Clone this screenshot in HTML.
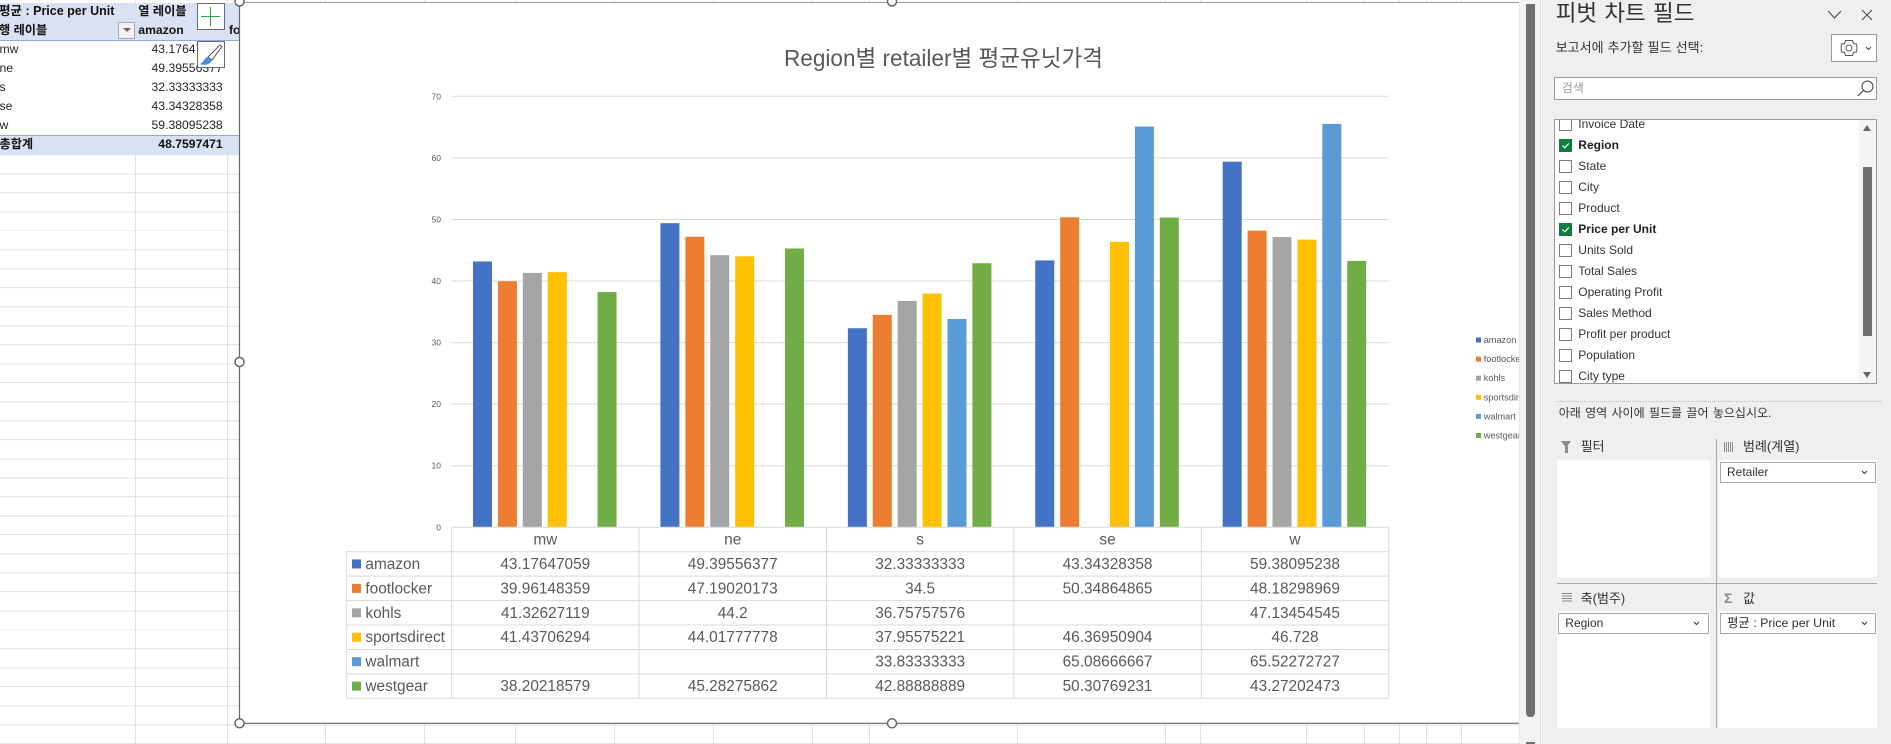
<!DOCTYPE html>
<html lang="ko">
<head>
<meta charset="utf-8">
<title>Region별 retailer별 평균유닛가격</title>
<style>
html,body{margin:0;padding:0;background:#fff}
body{position:relative;width:1891px;height:744px;overflow:hidden;font-family:"Liberation Sans","Noto Sans CJK KR",sans-serif;color:#262626}
div,span{position:absolute;box-sizing:border-box}
#grid-h{left:0;top:0;width:1519px;height:744px;background-image:repeating-linear-gradient(to bottom,transparent 0,transparent 18px,#e1e1e1 18px,#e1e1e1 19px);background-position:0 3.3px}
.v{top:0;width:1px;height:744px;background:#e1e1e1}
.c{height:19px;line-height:19px;font-size:12.2px;white-space:nowrap}
.b{font-weight:bold;color:#111}
.r{text-align:right;left:130px;width:92.7px}
.chk{left:1559px;width:13px;height:13px;border:1px solid #7a7a7a;background:#fff}
.chk.on{background:#107c41;border-color:#107c41}
.fld{left:1578.3px;height:20px;line-height:20px;font-size:12px;white-space:nowrap;color:#333}
.lbl{font-size:13px;height:18px;line-height:18px;white-space:nowrap;color:#333}
.zone{background:#fff}
.pill{height:21px;background:#fff;border:1px solid #a8a8a8;font-size:12px;line-height:19px;padding-left:6px;color:#333;white-space:nowrap}
</style>
</head>
<body>

<div id="grid-h"></div>
<div class="v" style="left:135px"></div>
<div class="v" style="left:226.5px"></div>
<div class="v" style="left:325px"></div>
<div class="v" style="left:424px"></div>
<div class="v" style="left:515px"></div>
<div class="v" style="left:614px"></div>
<div class="v" style="left:713px"></div>
<div class="v" style="left:812px"></div>
<div class="v" style="left:869px"></div>
<div class="v" style="left:1017px"></div>
<div class="v" style="left:1165px"></div>
<div class="v" style="left:1200px"></div>
<div class="v" style="left:1306px"></div>
<div class="v" style="left:1364px"></div>
<div class="v" style="left:1399px"></div>
<div class="v" style="left:1426px"></div>
<div class="v" style="left:1461px"></div>

<!-- pivot table -->
<div style="left:0;top:3px;width:239px;height:37.5px;background:#d9e1f2;border-bottom:1px solid #8ea9db"></div>
<div style="left:0;top:40.5px;width:239px;height:95px;background:#fff;border-bottom:1px solid #8ea9db"></div>
<div style="left:0;top:135.5px;width:239px;height:19px;background:#d9e1f2"></div>

<div class="c b" style="left:-1px;top:2px;font-size:12.5px">평균 : Price per Unit</div>
<div class="c b" style="left:138.3px;top:2px">열 레이블</div>
<div class="c b" style="left:-1px;top:21px">행 레이블</div>
<div style="left:118.3px;top:22.3px;width:16.5px;height:16.5px;background:#f2f2f2;border:1px solid #aaa">
  <span style="left:3.5px;top:5px;width:0;height:0;border-left:4px solid transparent;border-right:4px solid transparent;border-top:4px solid #666"></span>
</div>
<div class="c b" style="left:138.3px;top:21px">amazon</div>
<div class="c b" style="left:229px;top:21px;width:10px;overflow:hidden">footlocker</div>

<div class="c" style="left:-0.5px;top:40px">mw</div>
<div class="c" style="left:-0.5px;top:59px">ne</div>
<div class="c" style="left:-0.5px;top:78px">s</div>
<div class="c" style="left:-0.5px;top:97px">se</div>
<div class="c" style="left:-0.5px;top:116px">w</div>
<div class="c b" style="left:-0.5px;top:135px">총합계</div>
<div class="c r" style="top:40px">43.17647059</div>
<div class="c r" style="top:59px">49.39556377</div>
<div class="c r" style="top:78px">32.33333333</div>
<div class="c r" style="top:97px">43.34328358</div>
<div class="c r" style="top:116px">59.38095238</div>
<div class="c r b" style="top:135px">48.7597471</div>

<div style="left:197.3px;top:3.3px;width:27.4px;height:27.2px;background:#fff;border:1px solid #6a6a6a">
  <span style="left:12.2px;top:3px;width:1px;height:19px;background:#22a34a"></span>
  <span style="left:3px;top:12.2px;width:19px;height:1px;background:#22a34a"></span>
</div>
<div style="left:197.3px;top:41.3px;width:27.4px;height:27.2px;background:#fff;border:1px solid #6a6a6a">
  <svg width="26" height="26" style="position:absolute;left:0;top:0">
    <path d="M10 15 L22 3 L24 4.500 L14 18 Z" fill="#fff" stroke="#555" stroke-width="1"/>
    <path d="M10 15 C6 16 6 20 2 22 C7 24 13 22 14 18 Z" fill="#4a90d9"/>
  </svg>
</div>

<!-- chart -->
<svg id="chart" width="1891" height="744" style="position:absolute;left:0;top:0" xmlns="http://www.w3.org/2000/svg">
  <defs><clipPath id="legend-clip"><rect x="1470" y="320" width="49" height="130"/></clipPath></defs>
  <rect x="239.500" y="2.500" width="1280" height="720.800" fill="#fff"/>
  <line x1="239.500" y1="2.500" x2="1519" y2="2.500" stroke="#9a9a9a" stroke-width="1"/>
  <line x1="239.500" y1="2.500" x2="239.500" y2="723.300" stroke="#666" stroke-width="1.200"/>
  <line x1="239.500" y1="723.300" x2="1519" y2="723.300" stroke="#666" stroke-width="1.200"/>
  <line x1="1519.300" y1="2.500" x2="1519.300" y2="744" stroke="#e4e4e4" stroke-width="1"/>
  <text x="943.500" y="66" text-anchor="middle" font-size="23" fill="#595959" textLength="319" lengthAdjust="spacingAndGlyphs" font-family="Liberation Sans, Noto Sans CJK KR, sans-serif">Region별 retailer별 평균유닛가격</text>
  <g id="gridlines"></g>
  <g id="bars"></g>
  <g id="data-table"></g>
  <g id="legend" clip-path="url(#legend-clip)"></g>
  <circle cx="239.500" cy="723.300" r="4.500" fill="#fff" stroke="#666" stroke-width="1.500"/>
  <circle cx="239.500" cy="362" r="4.500" fill="#fff" stroke="#666" stroke-width="1.500"/>
  <circle cx="892" cy="723.300" r="4.500" fill="#fff" stroke="#666" stroke-width="1.500"/>
  <circle cx="892" cy="1.500" r="4.500" fill="#fff" stroke="#666" stroke-width="1.500"/>
  <circle cx="239.500" cy="1.500" r="4.500" fill="#fff" stroke="#666" stroke-width="1.500"/>
</svg>

<!-- sheet scrollbar -->
<div style="left:1520px;top:0;width:21px;height:744px;background:#f3f3f3;border-right:1px solid #dcdcdc"></div>
<div style="left:1526px;top:4px;width:9px;height:713px;background:#707070;border-radius:0 0 4px 4px"></div>
<div style="left:1526px;top:742px;width:9px;height:2px;background:#707070"></div>

<!-- field pane -->
<div style="left:1542px;top:0;width:349px;height:744px;background:#efefef"></div>
<div style="left:1555.7px;top:-2px;height:32px;line-height:32px;font-size:22.5px;word-spacing:1px;white-space:nowrap;color:#333">피벗 차트 필드</div>
<svg width="60" height="30" style="position:absolute;left:1820px;top:0">
  <path d="M8 11 L14.500 18 L21 11" fill="none" stroke="#444" stroke-width="1"/>
  <path d="M42 10 L52 20 M52 10 L42 20" fill="none" stroke="#444" stroke-width="1"/>
</svg>
<div class="lbl" style="left:1555.7px;top:39px;word-spacing:0.5px">보고서에 추가할 필드 선택:</div>
<div style="left:1831.3px;top:34.3px;width:45.4px;height:28px;background:#fff;border:1px solid #9a9a9a">
  <svg width="44" height="26" style="position:absolute;left:0;top:0">
    <circle cx="17" cy="13" r="3" fill="none" stroke="#555"/>
    <path d="M13.500 5.500 L20.500 5.500 L21.500 8.500 L24.500 9 L25 13 L24.500 17 L21.500 17.500 L20.500 20.500 L13.500 20.500 L12.500 17.500 L9.500 17 L9 13 L9.500 9 L12.500 8.500 Z" fill="none" stroke="#555"/>
    <path d="M34 12 L36.500 14.500 L39 12" fill="none" stroke="#444"/>
  </svg>
</div>
<div style="left:1554.3px;top:77.3px;width:322.4px;height:23px;background:#fff;border:1px solid #9a9a9a">
  <span style="left:6.500px;top:1px;line-height:19px;font-size:12px;color:#9a9a9a;white-space:nowrap">검색</span>
  <svg width="20" height="20" style="position:absolute;left:301px;top:0">
    <circle cx="11.500" cy="8.500" r="5.500" fill="none" stroke="#444"/>
    <path d="M7.500 12.500 L2 18" stroke="#444" stroke-width="1.200"/>
  </svg>
</div>
<div style="left:1554.3px;top:119.3px;width:322.4px;height:265px;background:#fff;border:1px solid #9a9a9a;overflow:hidden">
  <span style="left:304px;top:0;width:18px;height:265px;background:#f5f5f5"></span>
  <span style="left:308px;top:46.7px;width:9px;height:169px;background:#707070"></span>
  <span style="left:308px;top:5px;width:0;height:0;border-left:4.500px solid transparent;border-right:4.500px solid transparent;border-bottom:6px solid #666"></span>
  <span style="left:308px;top:252px;width:0;height:0;border-left:4.500px solid transparent;border-right:4.500px solid transparent;border-top:6px solid #666"></span>
</div>
<div style="left:1555.3px;top:120.3px;width:300px;height:263px;overflow:hidden">
  <div style="left:-1555.3px;top:-120.3px;width:1891px;height:744px">
    <div class="chk" style="top:117.500px"></div><div class="fld" style="top:114px">Invoice Date</div>
    <div class="chk on" style="top:138.700px"><svg width="11" height="11" style="position:absolute;left:0;top:0"><path d="M2.500 5.500 L4.800 7.800 L8.800 3.500" fill="none" stroke="#fff" stroke-width="1.200"/></svg></div><div class="fld" style="top:135px;font-weight:bold;color:#222">Region</div>
    <div class="chk" style="top:159.700px"></div><div class="fld" style="top:156px">State</div>
    <div class="chk" style="top:180.700px"></div><div class="fld" style="top:177px">City</div>
    <div class="chk" style="top:201.700px"></div><div class="fld" style="top:198px">Product</div>
    <div class="chk on" style="top:222.700px"><svg width="11" height="11" style="position:absolute;left:0;top:0"><path d="M2.500 5.500 L4.800 7.800 L8.800 3.500" fill="none" stroke="#fff" stroke-width="1.200"/></svg></div><div class="fld" style="top:219px;font-weight:bold;color:#222">Price per Unit</div>
    <div class="chk" style="top:243.700px"></div><div class="fld" style="top:240px">Units Sold</div>
    <div class="chk" style="top:264.700px"></div><div class="fld" style="top:261px">Total Sales</div>
    <div class="chk" style="top:285.700px"></div><div class="fld" style="top:282px">Operating Profit</div>
    <div class="chk" style="top:306.700px"></div><div class="fld" style="top:303px">Sales Method</div>
    <div class="chk" style="top:327.700px"></div><div class="fld" style="top:324px">Profit per product</div>
    <div class="chk" style="top:348.700px"></div><div class="fld" style="top:345px">Population</div>
    <div class="chk" style="top:369.700px"></div><div class="fld" style="top:366px">City type</div>
  </div>
</div>

<div style="left:1556px;top:401px;width:325px;height:0;border-top:1px dotted #bbb"></div>
<div class="lbl" style="left:1558.7px;top:404px;font-size:12px;word-spacing:1px">아래 영역 사이에 필드를 끌어 놓으십시오.</div>

<div style="left:1561px;top:441px;width:0;height:0;border-left:5.500px solid transparent;border-right:5.500px solid transparent;border-top:7px solid #8a8a8a"></div>
<div style="left:1565px;top:446px;width:3px;height:7px;background:#8a8a8a"></div>
<div class="lbl" style="left:1580.7px;top:438px">필터</div>
<div style="left:1724px;top:442px;width:9px;height:10px;background:repeating-linear-gradient(to right,#8a8a8a 0,#8a8a8a 1px,transparent 1px,transparent 2px)"></div>
<div class="lbl" style="left:1743px;top:438px">범례(계열)</div>
<div class="zone" style="left:1557px;top:460px;width:153px;height:117px"></div>
<div class="zone" style="left:1719px;top:460px;width:158px;height:117px"></div>
<div class="pill" style="left:1720px;top:462.3px;width:155.7px">Retailer<svg width="10" height="10" style="position:absolute;left:139px;top:4px"><path d="M2 4 L4.500 6.500 L7 4" fill="none" stroke="#333"/></svg></div>

<div style="left:1716px;top:439px;width:1px;height:288.7px;background:#a8a8a8"></div>
<div style="left:1557px;top:583px;width:320px;height:1px;background:#a8a8a8"></div>

<div style="left:1562px;top:593px;width:10px;height:10px;background:repeating-linear-gradient(to bottom,#8a8a8a 0,#8a8a8a 1px,transparent 1px,transparent 2.500px)"></div>
<div class="lbl" style="left:1580.7px;top:590px">축(범주)</div>
<div class="lbl" style="left:1724px;top:589px;font-size:14px;color:#8a8a8a;font-weight:bold">Σ</div>
<div class="lbl" style="left:1743px;top:590px">값</div>
<div class="zone" style="left:1557px;top:611px;width:153px;height:116.7px"></div>
<div class="zone" style="left:1719px;top:611px;width:158px;height:116.7px"></div>
<div class="pill" style="left:1558.3px;top:613.3px;width:150.4px">Region<svg width="10" height="10" style="position:absolute;left:133px;top:4px"><path d="M2 4 L4.500 6.500 L7 4" fill="none" stroke="#333"/></svg></div>
<div class="pill" style="left:1720px;top:613.3px;width:155.7px;font-size:12.4px">평균 : Price per Unit<svg width="10" height="10" style="position:absolute;left:139px;top:4px"><path d="M2 4 L4.500 6.500 L7 4" fill="none" stroke="#333"/></svg></div>

<script>
const categories = ['mw', 'ne', 's', 'se', 'w'];
const yTickLabels = [0, 10, 20, 30, 40, 50, 60, 70];
const seriesNames = ['amazon', 'footlocker', 'kohls', 'sportsdirect', 'walmart', 'westgear'];
const seriesColors = ['#4472c4', '#ed7d31', '#a5a5a5', '#ffc000', '#5b9bd5', '#70ad47'];
const amazon = [43.17647059, 49.39556377, 32.33333333, 43.34328358, 59.38095238];
const footlocker = [39.96148359, 47.19020173, 34.5, 50.34864865, 48.18298969];
const kohls = [41.32627119, 44.2, 36.75757576, null, 47.13454545];
const sportsdirect = [41.43706294, 44.01777778, 37.95575221, 46.36950904, 46.728];
const walmart = [null, null, 33.83333333, 65.08666667, 65.52272727];
const westgear = [38.20218579, 45.28275862, 42.88888889, 50.30769231, 43.27202473];
const seriesValues = [amazon, footlocker, kohls, sportsdirect, walmart, westgear];

const NS = 'http://www.w3.org/2000/svg';
const plot = { left: 451.6, right: 1388.7, top: 96.3, bottom: 527.3 };
const axisMax = 70;
const y = v => plot.bottom - (v / axisMax) * (plot.bottom - plot.top);
const catW = (plot.right - plot.left) / categories.length;
const x = i => plot.left + i * catW;
const barStep = catW * 0.1329;
const barW = catW * 0.1014;
const groupPad = catW * 0.1142;
const rowH = 24.43;
const tableLeft = 346.3;
const tableFont = 15.4;
const INK = '#595959';
const LINE = '#d9d9d9';

function make(tag, attrs, parent, text) {
  const el = document.createElementNS(NS, tag);
  for (const k in attrs) el.setAttribute(k, attrs[k]);
  if (text !== undefined) el.textContent = text;
  parent.appendChild(el);
  return el;
}

const gridG = document.getElementById('gridlines');
yTickLabels.forEach(t => {
  if (t > 0) {
    const gl = make('line', { x1: plot.left, x2: plot.right, y1: y(t), y2: y(t), stroke: LINE, 'stroke-width': 1 }, gridG);
    
    
  }
  const lab = make('text', { x: 441, y: y(t) + 3, 'text-anchor': 'end', 'font-size': 8.5, fill: INK }, gridG, String(t));
  
  
});

const barsG = document.getElementById('bars');
seriesValues.forEach((vals, s) => {
  vals.forEach((v, c) => {
    if (v === null) return;
    const r = make('rect', { x: x(c) + groupPad + s * barStep, y: y(v), width: barW, height: plot.bottom - y(v), fill: seriesColors[s] }, barsG);
    
    
  });
});

const tableG = document.getElementById('data-table');
const rows = seriesNames.length + 1;
for (let i = 0; i <= rows; i++) {
  const hl = make('line', { x1: i === 0 ? plot.left : tableLeft, x2: plot.right, y1: plot.bottom + i * rowH, y2: plot.bottom + i * rowH, stroke: LINE, 'stroke-width': 1 }, tableG);
  
  
}
for (let c = 0; c <= categories.length; c++) {
  const vl = make('line', { x1: x(c), x2: x(c), y1: plot.bottom, y2: plot.bottom + rows * rowH, stroke: LINE, 'stroke-width': 1 }, tableG);
  
  
}
const leftEdge = make('line', { x1: tableLeft, x2: tableLeft, y1: plot.bottom + rowH, y2: plot.bottom + rows * rowH, stroke: LINE, 'stroke-width': 1 }, tableG);



categories.forEach((name, c) => {
  const t = make('text', { x: x(c) + catW / 2, y: plot.bottom + rowH / 2 + 5, 'text-anchor': 'middle', 'font-size': tableFont, fill: INK }, tableG, name);
  
  
});
seriesNames.forEach((name, s) => {
  const rowMid = plot.bottom + (s + 1.5) * rowH;
  const key = make('rect', { x: 352, y: rowMid - 4.5, width: 9, height: 9, fill: seriesColors[s] }, tableG);
  
  
  const lab = make('text', { x: 365.4, y: rowMid + 5, 'font-size': tableFont, fill: INK }, tableG, name);
  
  
  seriesValues[s].forEach((v, c) => {
    if (v === null) return;
    const t = make('text', { x: x(c) + catW / 2, y: rowMid + 5, 'text-anchor': 'middle', 'font-size': tableFont, fill: INK }, tableG, String(v));
    
    
  });
});

const legendG = document.getElementById('legend');
seriesNames.forEach((name, s) => {
  const ly = 340 + s * 19.1;
  const k = make('rect', { x: 1476, y: ly - 2.5, width: 5, height: 5, fill: seriesColors[s] }, legendG);
  
  
  const t = make('text', { x: 1483.7, y: ly + 3, 'font-size': 9.2, fill: INK }, legendG, name);
  
  
});
</script>
</body>
</html>
